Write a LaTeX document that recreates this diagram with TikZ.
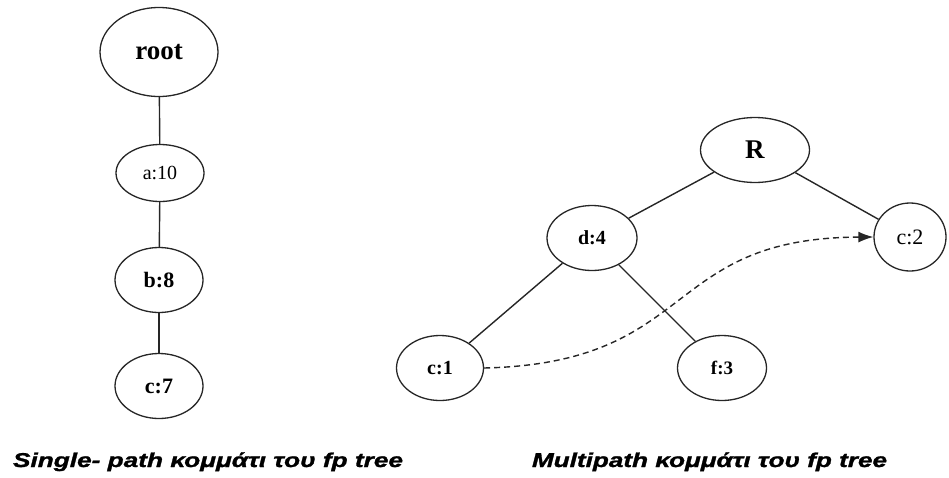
\documentclass[tikz,border=0pt]{standalone}
\usepackage{fontspec}
\setmainfont{Liberation Serif}
\newfontfamily\capfont[FakeBold=1.2]{Liberation Sans Bold Italic}
\usetikzlibrary{shapes.geometric,arrows.meta}

\tikzset{
  treenode/.style={draw=black!85, line width=1.3pt, ellipse, inner sep=0pt},
  treeedge/.style={draw=black!85, line width=1.4pt},
  linkedge/.style={draw=black!85, line width=1.4pt, dash pattern=on 6pt off 4pt,
                   -{Latex[length=15pt,width=11pt]}},
  caption/.style={inner sep=0pt, anchor=base}
}
\newcommand{\lbl}[2]{\fontsize{#1}{#1}\selectfont\textbf{#2}}
\newcommand{\lblr}[2]{\fontsize{#1}{#1}\selectfont #2}

\begin{document}
\begin{tikzpicture}[x=1pt, y=-1pt]
  \useasboundingbox (0,0) rectangle (949,477);

  % single path tree
  \node[treenode, minimum width=118pt, minimum height=89pt] (root) at (159,52) {\lbl{27}{root}};
  \node[treenode, minimum width=88pt, minimum height=57pt] (a10) at (160,173) {\lblr{20}{a:10}};
  \node[treenode, minimum width=88pt, minimum height=65pt] (b8) at (159,280) {\lbl{22}{b:8}};
  \node[treenode, minimum width=88pt, minimum height=65pt] (c7) at (159,386) {\lbl{22}{c:7}};

  \draw[treeedge] (root) -- (a10);
  \draw[treeedge] (a10) -- (b8);
  \draw[treeedge] (b8) -- (c7);

  % multipath tree
  \node[treenode, minimum width=109pt, minimum height=65pt] (R) at (755,150) {\lbl{27}{R}};
  \node[treenode, minimum width=90pt, minimum height=65pt] (d4) at (592,238) {\lbl{20}{d:4}};
  \node[treenode, minimum width=72pt, minimum height=68pt] (c2) at (910,237) {\lblr{22}{c:2}};
  \node[treenode, minimum width=87pt, minimum height=65pt] (c1) at (440,368) {\lbl{20}{c:1}};
  \node[treenode, minimum width=89pt, minimum height=65pt] (f3) at (722,368) {\lbl{19}{f:3}};

  \draw[treeedge] (R) -- (d4);
  \draw[treeedge] (R) -- (c2);
  \draw[treeedge] (d4) -- (c1);
  \draw[treeedge] (d4) -- (f3);

  % node link between the two c items
  \draw[linkedge] (c1.east) .. controls +(215,-5) and +(-213,1) .. (c2.west);

  % captions
  \node[caption] (capL) at (208,467)
    {\resizebox{390pt}{\height}{\capfont\fontsize{20}{22}\selectfont Single- path κομμάτι του fp tree}};
  \node[caption] (capR) at (709.5,467)
    {\resizebox{355pt}{\height}{\capfont\fontsize{20}{22}\selectfont Multipath κομμάτι του fp tree}};
\end{tikzpicture}
\end{document}
